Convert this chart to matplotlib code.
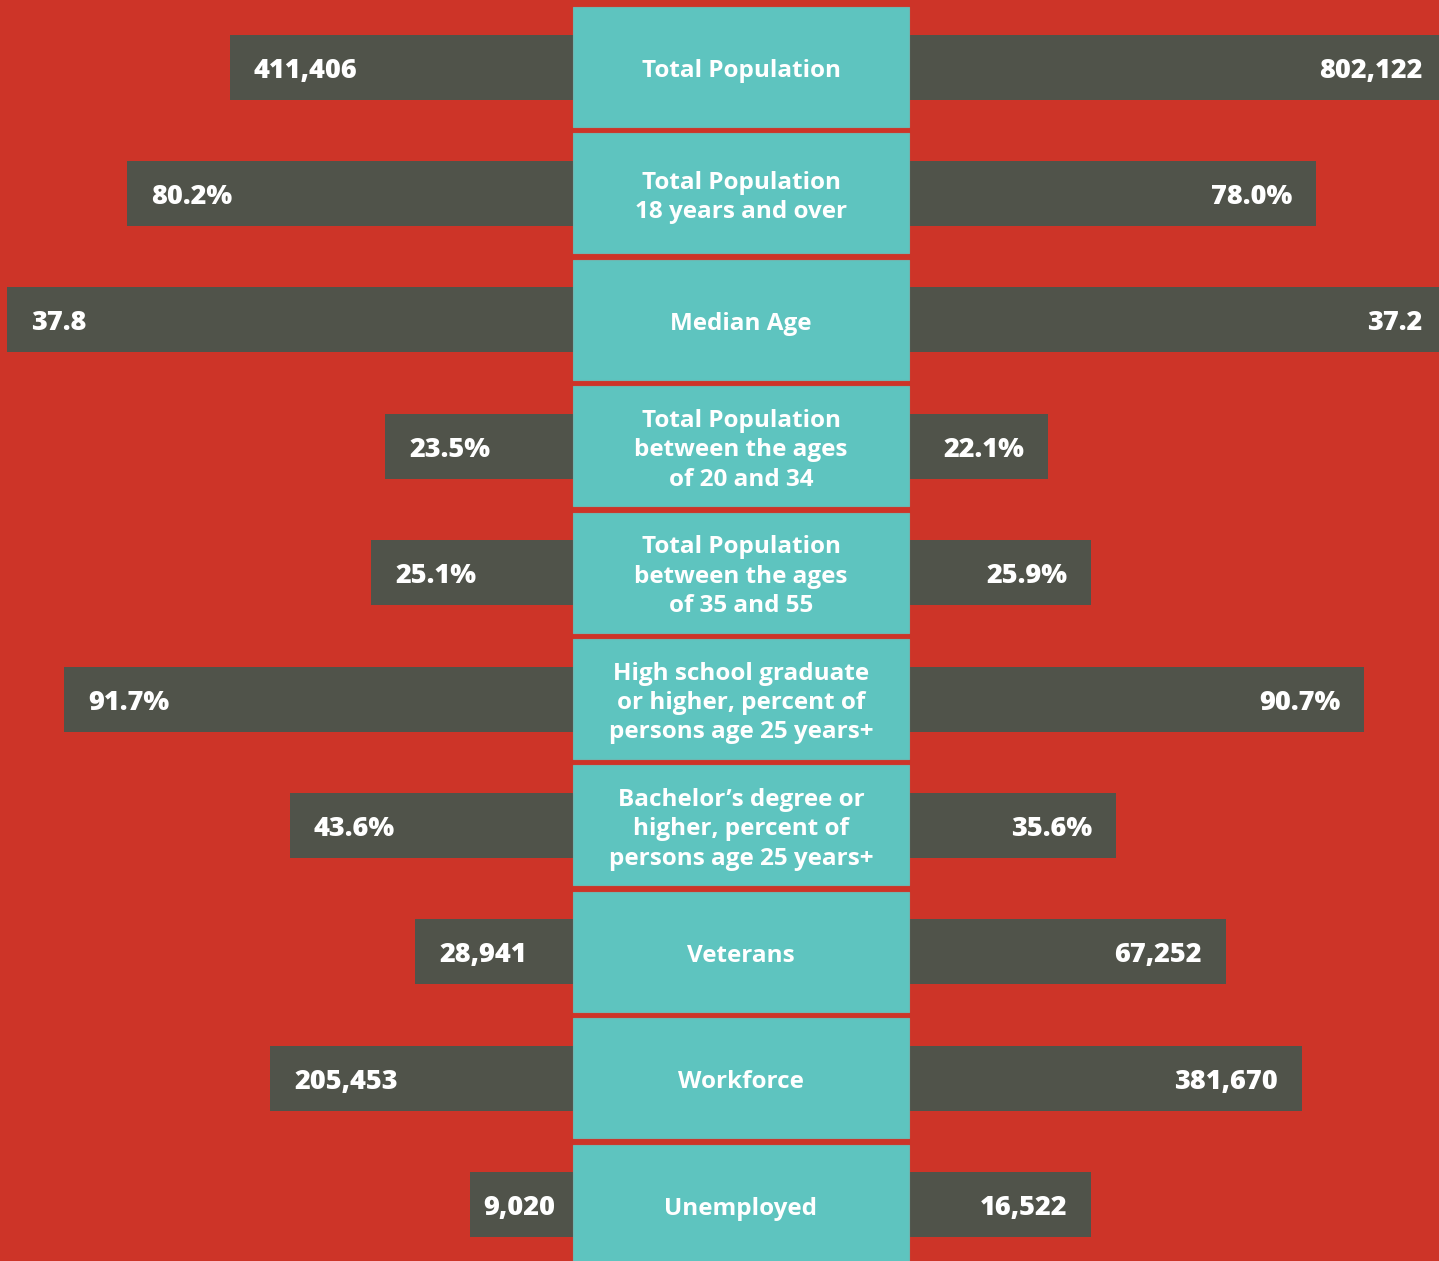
import matplotlib
matplotlib.use("Agg")
import matplotlib.pyplot as plt
from matplotlib.patches import Rectangle

categories = [
    "Total Population",
    "Total Population\n18 years and over",
    "Median Age",
    "Total Population\nbetween the ages\nof 20 and 34",
    "Total Population\nbetween the ages\nof 35 and 55",
    "High school graduate\nor higher, percent of\npersons age 25 years+",
    "Bachelor\u2019s degree or\nhigher, percent of\npersons age 25 years+",
    "Veterans",
    "Workforce",
    "Unemployed",
]
left_labels = ["411,406", "80.2%", "37.8", "23.5%", "25.1%", "91.7%", "43.6%", "28,941", "205,453", "9,020"]
right_labels = ["802,122", "78.0%", "37.2", "22.1%", "25.9%", "90.7%", "35.6%", "67,252", "381,670", "16,522"]
# bar lengths as drawn in the infographic (not proportional to values)
left_len = [343, 446, 566, 188, 202, 509, 283, 158, 303, 103]
right_len = [540, 407, 540, 139, 182, 455, 207, 317, 393, 182]

BG = "#CD3428"
DARK = "#50534A"
TEAL = "#5EC4BF"

W, H = 1439, 1261
fig = plt.figure(figsize=(W / 100, H / 100), dpi=100)
fig.patch.set_facecolor(BG)
ax = fig.add_axes([0, 0, 1, 1])
ax.set_xlim(0, W)
ax.set_ylim(H, 0)
ax.axis("off")
ax.set_facecolor(BG)

cx0, cx1 = 573, 909
pitch = 126.4
first_center = 67
box_h = 120
bar_h = 65
font = ["Open Sans", "DejaVu Sans"]

for i, cat in enumerate(categories):
    yc = first_center + i * pitch
    # bars
    ax.barh(yc, left_len[i], left=cx0 - left_len[i], height=bar_h, color=DARK, zorder=1)
    ax.barh(yc, right_len[i], left=cx1, height=bar_h, color=DARK, zorder=1)
    # center box
    bh = box_h if i < len(categories) - 1 else 200
    ax.add_patch(Rectangle((cx0, yc - box_h / 2), cx1 - cx0, bh,
                           facecolor=TEAL, edgecolor="#6fb5b0", lw=0.8, zorder=2))
    ax.text((cx0 + cx1) / 2, yc + 4, cat, ha="center", va="center", color="white",
            fontsize=17.5, fontweight="bold", family=font, linespacing=1.3, zorder=3)
    # values
    loff = 24 if left_len[i] > 120 else 13
    ax.text(cx0 - left_len[i] + loff, yc + 3.5, left_labels[i], ha="left", va="center",
            color="white", fontsize=19.5, fontweight="heavy", family=font, zorder=3)
    rend = min(cx1 + right_len[i], W + 7)
    ax.text(rend - 24, yc + 3.5, right_labels[i], ha="right", va="center",
            color="white", fontsize=19.5, fontweight="heavy", family=font, zorder=3)

fig.savefig("out.png", dpi=100, facecolor=BG)
